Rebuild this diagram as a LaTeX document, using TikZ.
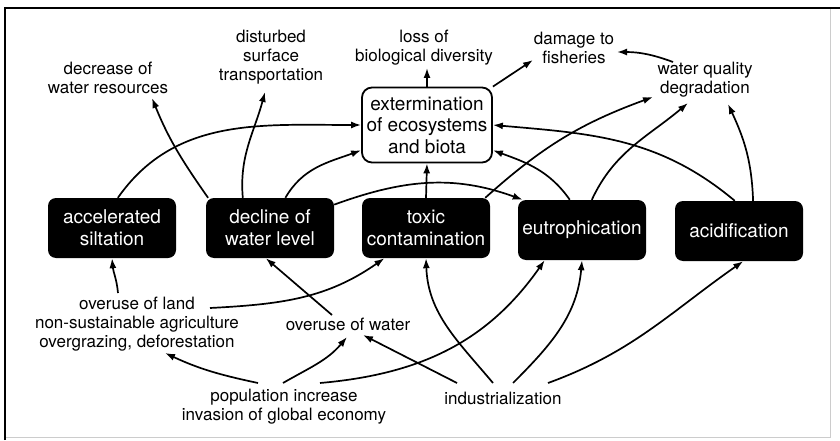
\documentclass[tikz,border=0pt]{standalone}
\usepackage{fontspec}
\setmainfont{TeX Gyre Heros}
\usepackage{tikz}
\usetikzlibrary{arrows.meta, positioning, calc}

\newcommand{\lblfont}{\fontsize{17}{19}\selectfont}
\newcommand{\boxfont}{\fontsize{19}{22}\selectfont}

\begin{document}
\begin{tikzpicture}[x=1pt, y=1pt,
    blackbox/.style={fill=black, text=white, rounded corners=8pt, minimum width=128pt, minimum height=60pt, align=center, inner sep=2pt, font=\boxfont},
    extbox/.style={draw, line width=1.8pt, fill=white, rounded corners=10pt, minimum width=130pt, minimum height=75pt, align=center, inner sep=2pt, font=\fontsize{19}{21.5}\selectfont},
    lbl/.style={align=center, inner sep=2pt, font=\lblfont},
    arr/.style={-{Latex[length=10pt, width=7pt]}, line width=1.7pt}]
  \useasboundingbox (0,0) rectangle (840,440);

  % Frame
  \draw[black!20, line width=1pt] (5,3) -- (830,3) -- (830,432);
  \draw[line width=2.5pt] (5,0) -- (5,432) -- (840,432);

  % Problem boxes
  \node[blackbox] (sil)  at (112, 212) {accelerated\\siltation};
  \node[blackbox] (decl) at (270, 212) {decline of\\water level};
  \node[blackbox] (tox)  at (426, 212) {toxic\\contamination};
  \node[blackbox] (eut)  at (582, 210) {eutrophication};
  \node[blackbox] (acid) at (739, 209) {acidification};
  \node[extbox]   (ext)  at (427, 315) {extermination\\of ecosystems\\and biota};

  % Effects
  \node[lbl] (dec)  at (108, 362) {decrease of\\water resources};
  \node[lbl] (dist) at (271, 383) {disturbed\\surface\\transportation};
  \node[lbl] (loss) at (424, 392) {loss of\\biological diversity};
  \node[lbl] (dam)  at (574, 392) {damage to\\fisheries};
  \node[lbl] (wq)   at (705, 360) {water quality\\degradation};

  % Causes
  \node[lbl] (land) at (137, 116) {overuse of land\\non-sustainable agriculture\\overgrazing, deforestation};
  \node[lbl] (wat)  at (348, 116) {overuse of water};
  \node[lbl] (pop)  at (284, 33)  {population increase\\invasion of global economy};
  \node[lbl] (ind)  at (503, 42)  {industrialization};

  % Upper arrows
  \draw[arr] (ext.north) -- ([shift={(3,-20)}]loss.center);
  \draw[arr] (ext.north east) -- ([shift={(-41,-12)}]dam.center);
  \draw[arr] ([shift={(-32,18)}]wq.center) to[bend right=10] ([shift={(43,-4)}]dam.center);
  \draw[arr] (sil.79) to[out=55, in=180] (ext.west);
  \draw[arr] (decl.154) to[out=125, in=-68] ([shift={(44,-20)}]dec.center);
  \draw[arr] (decl.132) to[out=95, in=-105] ([shift={(-6,-35)}]dist.center);
  \draw[arr] (decl.63) to[out=60, in=200] (ext.201);
  \draw[arr] (decl.20) to[out=20, in=160] (eut.153);
  \draw[arr] (tox.north) -- (ext.south);
  \draw[arr] (tox.27) to[out=42, in=200] ([shift={(-52,-17)}]wq.center);
  \draw[arr] (eut.112) to[out=125, in=-20] (ext.-21);
  \draw[arr] (eut.72) to[out=65, in=220] ([shift={(-17,-23)}]wq.center);
  \draw[arr] (acid.98) to[out=140, in=-5] (ext.east);
  \draw[arr] (acid.65) to[out=92, in=-65] ([shift={(23,-24)}]wq.center);

  % Lower arrows
  \draw[arr] ([shift={(-19,31)}]land.center) to[out=95, in=-85] (sil.south);
  \draw[arr] ([shift={(73,16)}]land.center) to[out=3, in=215] (tox.-144);
  \draw[arr] ([shift={(-16,9)}]wat.center) -- (decl.-98);
  \draw[arr] ([shift={(-26,24)}]pop.center) to[out=168, in=-25] ([shift={(28,-29)}]land.center);
  \draw[arr] ([shift={(-1,24)}]pop.center) to[out=30, in=230] ([shift={(-1,-13)}]wat.center);
  \draw[arr] ([shift={(36,24)}]pop.center) to[out=5, in=235] (eut.-141);
  \draw[arr] ([shift={(-46,15)}]ind.center) -- ([shift={(15,-11)}]wat.center);
  \draw[arr] ([shift={(-10,15)}]ind.center) to[out=130, in=-88] (tox.south);
  \draw[arr] ([shift={(10,15)}]ind.center) to[out=45, in=-95] (eut.south);
  \draw[arr] ([shift={(45,15)}]ind.center) to[out=20, in=215] (acid.-82);
\end{tikzpicture}
\end{document}
